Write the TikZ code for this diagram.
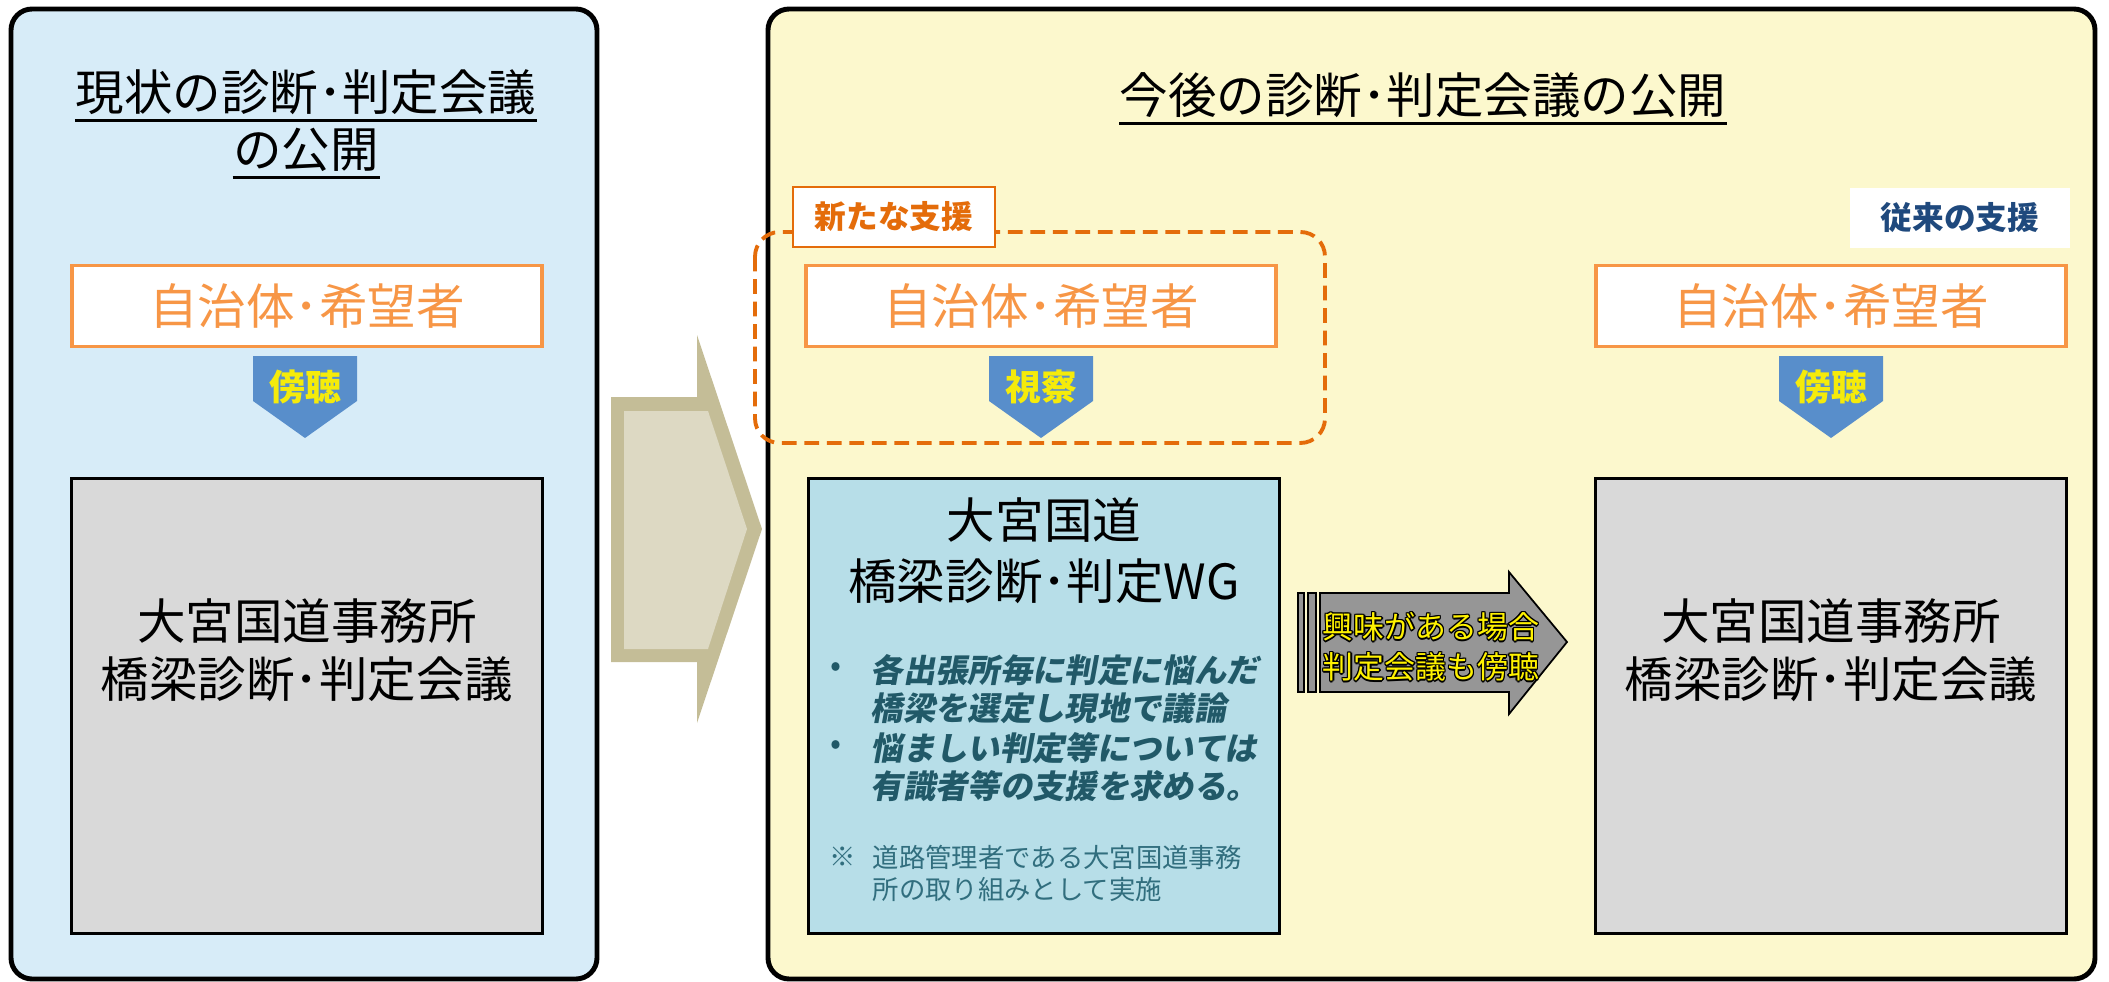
\documentclass[tikz,border=0pt]{standalone}
\usepackage{fontspec}
\setmainfont{Noto Sans CJK JP}
\newfontfamily\slantjp{Noto Sans CJK JP}[FakeSlant=0.18]
\usepackage{tikz}
\usetikzlibrary{positioning}
\definecolor{nowbg}{RGB}{215,236,248}
\definecolor{nextbg}{RGB}{252,248,205}
\definecolor{citizen}{RGB}{247,150,70}
\definecolor{newhelp}{RGB}{228,108,10}
\definecolor{oldhelp}{RGB}{31,73,125}
\definecolor{visit}{RGB}{88,142,203}
\definecolor{hear}{RGB}{245,235,10}
\definecolor{meeting}{RGB}{217,217,217}
\definecolor{wgfill}{RGB}{183,222,232}
\definecolor{wgtext}{RGB}{33,89,104}
\definecolor{wgnote}{RGB}{49,110,126}
\definecolor{shiftout}{RGB}{196,189,151}
\definecolor{shiftin}{RGB}{221,217,195}
\definecolor{peek}{RGB}{150,150,150}
\newcommand\rimmed[1]{%
  \foreach \rx/\ry in {-0.4/0,0.4/0,0/-0.4,0/0.4,-0.3/-0.3,0.3/0.3,-0.3/0.3,0.3/-0.3}{%
    \makebox[0pt][l]{\kern\rx pt\raisebox{\ry pt}{\color{black}#1}}}%
  #1}

\begin{document}
\begin{tikzpicture}[x=0.01cm,y=-0.01cm,
    panel/.style={draw=black,line width=1.4pt,rounded corners=6pt},
    heading/.style={inner sep=0pt,font=\fontsize{13.8}{16}\selectfont},
    who/.style={draw=citizen,fill=white,line width=1.1pt,text=citizen,
      minimum width=4.7cm,minimum height=0.81cm,font=\fontsize{13.8}{16}\selectfont},
    meet/.style={draw=black,line width=0.8pt,minimum width=4.7cm,minimum height=4.55cm},
    bigtext/.style={align=center,font=\fontsize{13.8}{16.5}\selectfont},
    cue/.style={text=hear,inner sep=0pt,font=\bfseries\fontsize{10.2}{12}\selectfont},
    tag/.style={fill=white,minimum height=0.6cm,font=\bfseries\fontsize{9}{11}\selectfont},
    wgitem/.style={text=wgtext,inner sep=0pt,font=\slantjp\bfseries\fontsize{9.2}{10.8}\selectfont},
    wgsmall/.style={text=wgnote,inner sep=0pt,font=\fontsize{7.5}{9.1}\selectfont}]
  \useasboundingbox (0,0) rectangle (2109,982);

  % the two panels and the shift between them
  \draw[panel,fill=nowbg] (11,9) rectangle (597,979);
  \draw[panel,fill=nextbg] (768,9) rectangle (2095,979);
  \fill[shiftout] (611,397) -- (697,397) -- (697,335) -- (762,529) -- (697,723) -- (697,662) -- (611,662) -- cycle;
  \fill[shiftin] (624,411) -- (708,411) -- (747,529) -- (708,649) -- (624,649) -- cycle;

  \node[heading] (nowtop) at (306,92) {現状の診断･判定会議};
  \node[heading] (nowbot) at (306,150) {の公開};
  \node[heading] (nexttop) at (1423,95) {今後の診断･判定会議の公開};
  \foreach \t in {nowtop,nowbot,nexttop}
    \draw[line width=0.8pt] ([yshift=-1.5pt]\t.south west) -- ([yshift=-1.5pt]\t.south east);

  \draw[newhelp,line width=1.1pt,dash pattern=on 4.2pt off 2.2pt,rounded corners=7pt]
    (755,232) rectangle (1325,443);
  \node[tag,draw=newhelp,line width=0.6pt,text=newhelp,minimum width=2.02cm] (newtag) at (894,217) {新たな支援};
  \node[tag,text=oldhelp,minimum width=2.2cm] (oldtag) at (1960,218) {従来の支援};

  \node[who] (whoL) at (307,306) {自治体･希望者};
  \node[who] (whoM) at (1041,306) {自治体･希望者};
  \node[who] (whoR) at (1831,306) {自治体･希望者};

  \foreach \cx/\word in {305/傍聴,1041/視察,1831/傍聴}{
    \fill[visit] (\cx-52,356) -- (\cx+52,356) -- (\cx+52,401) -- (\cx,438) -- (\cx-52,401) -- cycle;
    \node[cue] (cue\cx) at (\cx,387) {\word};
  }

  \node[meet,fill=meeting] (meetL) at (307,706) {};
  \node[bigtext] (meetLtext) at (307,650) {大宮国道事務所\\橋梁診断･判定会議};
  \node[meet,fill=meeting] (meetR) at (1831,706) {};
  \node[bigtext] (meetRtext) at (1831,650) {大宮国道事務所\\橋梁診断･判定会議};

  % working group box
  \node[meet,fill=wgfill] (wg) at (1044,706) {};
  \node[bigtext,font=\fontsize{13.8}{17.4}\selectfont] (wghead) at (1044,551) {大宮国道\\橋梁診断･判定WG};
  \node[text=wgtext,font=\fontsize{9.2}{11}\selectfont] (dot1) at (836,670) {•};
  \node[wgitem,anchor=west,align=left] (item1) at (870,689) {各出張所毎に判定に悩んだ\\橋梁を選定し現地で議論};
  \node[text=wgtext,font=\fontsize{9.2}{11}\selectfont] (dot2) at (836,748) {•};
  \node[wgitem,anchor=west,align=left] (item2) at (870,767) {悩ましい判定等については\\有識者等の支援を求める。};
  \node[wgsmall] (mark) at (843,857) {※};
  \node[wgsmall,anchor=west,align=left] (remark) at (872,873) {道路管理者である大宮国道事務\\所の取り組みとして実施};

  \draw[line width=0.5pt,fill=peek] (1320,593) -- (1509,593) -- (1509,572) -- (1567,642)
    -- (1509,714) -- (1509,692) -- (1320,692) -- cycle;
  \draw[line width=0.5pt,fill=peek] (1298,593) rectangle (1304,692);
  \draw[line width=0.5pt,fill=peek] (1308,593) rectangle (1316,692);
  \node[text=yellow,inner sep=0pt,font=\fontsize{8.8}{11}\selectfont] (peek1) at (1431,627) {\rimmed{興味がある場合}};
  \node[text=yellow,inner sep=0pt,font=\fontsize{8.8}{11}\selectfont] (peek2) at (1431,667) {\rimmed{判定会議も傍聴}};
\end{tikzpicture}
\end{document}
